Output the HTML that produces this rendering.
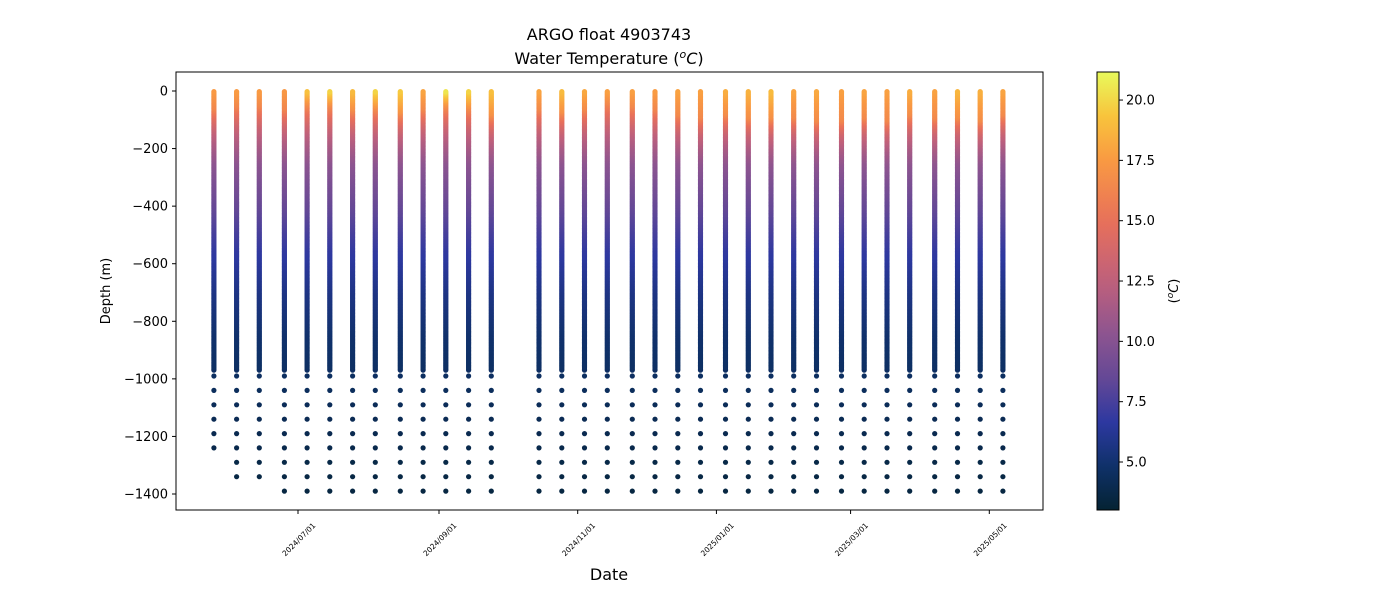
<!DOCTYPE html>
<html><head><meta charset="utf-8"><style>
body{margin:0;background:#fff;font-family:"Liberation Sans","DejaVu Sans",sans-serif}
svg text{font-family:"DejaVu Sans","Liberation Sans",sans-serif}
</style></head><body>
<svg id="c" width="1400" height="600" xmlns="http://www.w3.org/2000/svg">
<defs><linearGradient id="cg" x1="0" y1="1" x2="0" y2="0"></linearGradient></defs>
<text x="609" y="40" font-size="16" text-anchor="middle">ARGO float 4903743</text>
<text x="609" y="64" font-size="16" text-anchor="middle">Water Temperature (<tspan font-style="italic" font-size="11" dy="-6">o</tspan><tspan font-style="italic" dy="6">C</tspan>)</text>
<g id="marks"></g>
<rect x="176" y="72" width="867" height="438" fill="none" stroke="#000" stroke-width="1"/>
<g id="yax"></g>
<g id="xax"></g>
<text x="110" y="291" font-size="13" text-anchor="middle" transform="rotate(-90 110 291)">Depth (m)</text>
<text x="609" y="580" font-size="16" text-anchor="middle">Date</text>
<rect x="1097" y="72" width="22" height="438" fill="url(#cg)" stroke="#000" stroke-width="1"/>
<g id="cax"></g>
<text x="1178" y="291" font-size="13" text-anchor="middle" transform="rotate(-90 1178 291)">(<tspan font-style="italic" font-size="9" dy="-5">o</tspan><tspan font-style="italic" dy="5">C</tspan>)</text>
</svg>
<script>
// day offsets from 2024-07-01
const profileDays=[-37,-27,-17,-6,4,14,24,34,45,55,65,75,85,106,116,126,136,147,157,167,177,188,198,208,218,228,239,249,259,269,280,290,300,310];
const surfaceTemps=[17.5,17.6,17.6,17.4,19.3,20.0,19.0,20.0,19.6,18.0,20.6,20.0,19.2,18.0,19.0,18.2,17.8,17.8,17.6,17.9,17.8,18.4,18.6,19.0,18.0,18.2,17.8,18.0,17.8,18.4,17.9,18.8,18.5,18.0];
const mixedDepths=[60,50,50,60,40,40,60,50,70,60,40,50,80,60,70,60,40,50,60,80,90,80,90,90,90,100,100,90,100,80,90,90,100,80];
const maxDepths=[1240,1340,1340,1390,1390,1390,1390,1390,1390,1390,1390,1390,1390,1390,1390,1390,1390,1390,1390,1390,1390,1390,1390,1390,1390,1390,1390,1390,1390,1390,1390,1390,1390,1390];
const tplDepth=[0,150,250,400,550,700,850,970,1100,1250,1400];
const tplTemp=[15.5,12.0,10.2,8.5,6.8,5.7,4.9,4.6,4.2,3.8,3.5];
const yTicks=[0,-200,-400,-600,-800,-1000,-1200,-1400];
const xTickDays=[0,62,123,184,243,304];
const xTickLabels=["2024/07/01","2024/09/01","2024/11/01","2025/01/01","2025/03/01","2025/05/01"];
const cTicks=[5,7.5,10,12.5,15,17.5,20];
const cMin=3.0,cMax=21.16;

const NS="http://www.w3.org/2000/svg";
const X=d=>298+d*2.274;
const Y=z=>91-z*0.28786;
const CY=t=>462-(t-5)*24.13;
const stops=[[0,[4,35,51]],[0.1,[15,49,105]],[0.2,[45,56,160]],[0.3,[100,72,150]],[0.4,[140,84,144]],[0.52,[190,96,124]],[0.66,[232,112,90]],[0.8,[249,154,66]],[0.9,[248,196,60]],[1,[232,250,91]]];
function col(t){let f=(t-cMin)/(cMax-cMin);f=Math.max(0,Math.min(1,f));
 for(let i=1;i<stops.length;i++){if(f<=stops[i][0]){const a=stops[i-1],b=stops[i],u=(f-a[0])/(b[0]-a[0]);
 return "rgb("+a[1].map((v,k)=>Math.round(v+(b[1][k]-v)*u)).join(",")+")";}}return "rgb(232,250,91)";}
function tpl(z){for(let i=1;i<tplDepth.length;i++){if(z<=tplDepth[i]){const u=(z-tplDepth[i-1])/(tplDepth[i]-tplDepth[i-1]);return tplTemp[i-1]+u*(tplTemp[i]-tplTemp[i-1]);}}return tplTemp[tplTemp.length-1];}
function temp(p,z){const ml=mixedDepths[p],s=surfaceTemps[p];
 if(z<=ml){return s-(s-Math.max(tpl(ml),15.5))*(z/ml)*0.6;}
 const ts=s-(s-Math.max(tpl(ml),15.5))*0.6;const t0=tpl(z);
 const w=Math.exp(-(z-ml)/60);return t0+(ts-tpl(ml))*w;}
const g=document.getElementById('marks');
for(let p=0;p<profileDays.length;p++){
 const cx=X(profileDays[p]);
 const depths=[];
 for(let z=970;z>=0;z-=4)depths.push(z);
 for(let z=990;z<=maxDepths[p];z+=50)depths.push(z);
 depths.sort((a,b)=>b-a);
 for(const z of depths){
  const c=document.createElementNS(NS,'circle');
  c.setAttribute('cx',cx.toFixed(1));c.setAttribute('cy',Y(-z).toFixed(1));c.setAttribute('r','2.6');
  c.setAttribute('fill',col(temp(p,z)));
  
  
  g.appendChild(c);}
}
const ya=document.getElementById('yax');
for(const v of yTicks){const y=Y(v);
 const l=document.createElementNS(NS,'line');l.setAttribute('x1',172);l.setAttribute('x2',176);l.setAttribute('y1',y);l.setAttribute('y2',y);l.setAttribute('stroke','#000');
 
 ya.appendChild(l);
 const t=document.createElementNS(NS,'text');t.setAttribute('x',168);t.setAttribute('y',y+4.5);t.setAttribute('font-size','13');t.setAttribute('text-anchor','end');
 t.textContent=v===0?"0":"\u2212"+Math.abs(v);
 
 ya.appendChild(t);}
const xa=document.getElementById('xax');
xTickDays.forEach((d,i)=>{const x=X(d);
 const l=document.createElementNS(NS,'line');l.setAttribute('x1',x);l.setAttribute('x2',x);l.setAttribute('y1',510);l.setAttribute('y2',514);l.setAttribute('stroke','#000');
 
 xa.appendChild(l);
 const ax=x+18,ay=526;
 const t=document.createElementNS(NS,'text');t.setAttribute('x',ax);t.setAttribute('y',ay);t.setAttribute('font-size','7.5');t.setAttribute('text-anchor','end');
 t.setAttribute('transform','rotate(-45 '+ax+' '+ay+')');t.textContent=xTickLabels[i];
 
 xa.appendChild(t);});
const cg=document.getElementById('cg');
for(let i=0;i<=20;i++){const s=document.createElementNS(NS,'stop');s.setAttribute('offset',i/20);s.setAttribute('stop-color',col(cMin+(cMax-cMin)*i/20));cg.appendChild(s);}
const ca=document.getElementById('cax');
for(const v of cTicks){const y=CY(v);
 const l=document.createElementNS(NS,'line');l.setAttribute('x1',1119);l.setAttribute('x2',1123);l.setAttribute('y1',y);l.setAttribute('y2',y);l.setAttribute('stroke','#000');
 
 ca.appendChild(l);
 const t=document.createElementNS(NS,'text');t.setAttribute('x',1126);t.setAttribute('y',y+4.5);t.setAttribute('font-size','13');
 t.textContent=v.toFixed(1);
 
 ca.appendChild(t);}
</script>
</body></html>
